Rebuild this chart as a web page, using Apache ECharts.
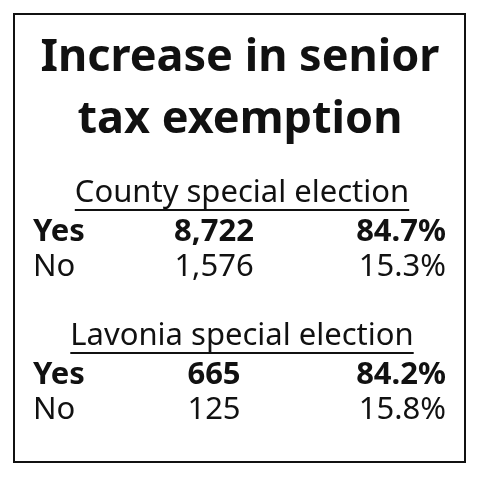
<!DOCTYPE html>
<html><head><meta charset="utf-8">
<script src="https://cdn.jsdelivr.net/npm/echarts@6/dist/echarts.min.js"></script>
<style>html,body{margin:0;padding:0;background:#fff}#c{width:480px;height:479px}</style>
</head><body><div id="c"></div>
<script>
const titleLines = ["Increase in senior", "tax exemption"];
const sections = ["County special election", "Lavonia special election"];
const labels = ["Yes", "No"];
const votes = [[8722, 1576], [665, 125]];
const percents = [[84.7, 15.3], [84.2, 15.8]];

const chart = echarts.init(document.getElementById('c'));
const F = '"Noto Sans", sans-serif';
const g = [];
g.push({type:'rect', shape:{x:14,y:14,width:451,height:448}, style:{fill:'none', stroke:'#111', lineWidth:2}});
titleLines.forEach((t,i)=>g.push({type:'text', x:240, y:58+i*62, style:{text:t, font:'bold 45px '+F, fill:'#111', align:'center', verticalAlign:'middle'}}));
const secY = [193, 336];
sections.forEach((s,i)=>{
  const y = secY[i];
  g.push({type:'text', x:242, y:y, style:{text:s, font:'31px '+F, fill:'#111', align:'center', verticalAlign:'middle'}});
  labels.forEach((l,j)=>{
    const ry = y + 39 + j*35;
    const f = (j===0?'bold ':'') + '31px ' + F;
    g.push({type:'text', x:33, y:ry, style:{text:l, font:f, fill:'#111', align:'left', verticalAlign:'middle'}});
    g.push({type:'text', x:214, y:ry, style:{text:votes[i][j].toLocaleString('en-US'), font:f, fill:'#111', align:'center', verticalAlign:'middle'}});
    g.push({type:'text', x:446, y:ry, style:{text:percents[i][j].toFixed(1)+'%', font:f, fill:'#111', align:'right', verticalAlign:'middle'}});
  });
});
chart.setOption({graphic:g});
setTimeout(()=>{
  const ctx=document.createElement('canvas').getContext('2d');ctx.font='31px '+F;
  const extra=sections.map((s,i)=>{const w=ctx.measureText(s).width;return {type:'line',shape:{x1:242-w/2,y1:secY[i]+17,x2:242+w/2,y2:secY[i]+17},style:{stroke:'#111',lineWidth:2}};});
  chart.setOption({graphic:g.concat(extra)},{replaceMerge:['graphic']});
},0);
</script></body></html>
